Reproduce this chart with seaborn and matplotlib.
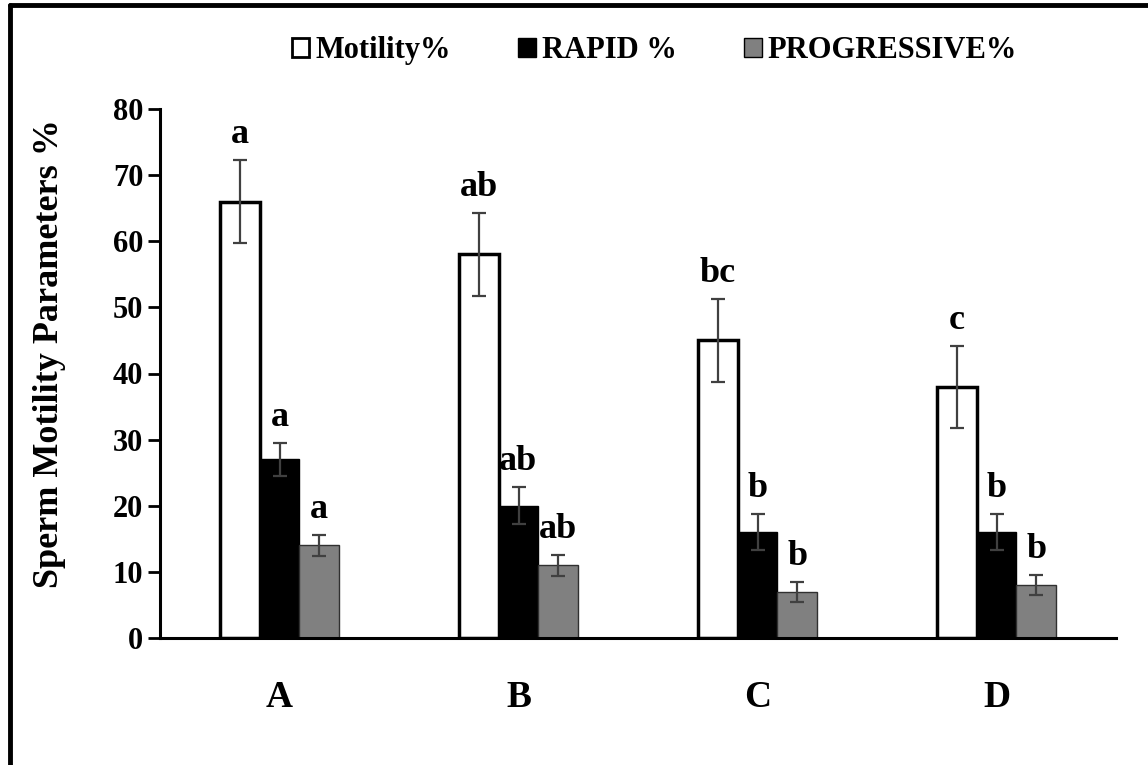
import matplotlib
matplotlib.use("Agg")
import matplotlib.pyplot as plt
import seaborn as sns
import pandas as pd
from matplotlib.patches import Patch
from matplotlib.lines import Line2D

# ---- data ----
groups = ["A", "B", "C", "D"]
series_names = ["Motility%", "RAPID %", "PROGRESSIVE%"]
motility = [66, 58, 45, 38]
rapid = [27, 20, 16, 16]
progressive = [14, 11, 7, 8]
motility_err = [6.3, 6.3, 6.3, 6.2]
rapid_err = [2.5, 2.8, 2.7, 2.7]
progressive_err = [1.6, 1.6, 1.5, 1.5]
motility_letters = ["a", "ab", "bc", "c"]
rapid_letters = ["a", "ab", "b", "b"]
progressive_letters = ["a", "ab", "b", "b"]
yticks = [0, 10, 20, 30, 40, 50, 60, 70, 80]

values = [motility, rapid, progressive]
errors = [motility_err, rapid_err, progressive_err]
letters = [motility_letters, rapid_letters, progressive_letters]

rows = []
for name, vals in zip(series_names, values):
    for g, v in zip(groups, vals):
        rows.append({"group": g, "series": name, "value": v})
df = pd.DataFrame(rows)

sns.set_style("white")
plt.rcParams["font.family"] = ["Liberation Serif", "DejaVu Serif"]
plt.rcParams["font.weight"] = "bold"
plt.rcParams["text.color"] = "black"
plt.rcParams["axes.labelcolor"] = "black"
plt.rcParams["xtick.color"] = "black"
plt.rcParams["ytick.color"] = "black"

fill_colors = ["white", "black", "#808080"]
edge_colors = ["black", "black", "#303030"]
edge_widths = [2.5, 1.0, 1.0]

fig = plt.figure(figsize=(11.48, 7.65), dpi=100)
ax = fig.add_axes([160 / 1148, 1 - 638 / 765, (1116 - 160) / 1148, (638 - 109) / 765])

sns.barplot(data=df, x="group", y="value", hue="series", hue_order=series_names,
            order=groups, palette=fill_colors, width=0.5, errorbar=None,
            legend=False, ax=ax)

bar_conts = list(ax.containers)
for i, cont in enumerate(bar_conts):
    xs, ys = [], []
    for bar in cont.patches:
        bar.set_facecolor(fill_colors[i])
        bar.set_edgecolor(edge_colors[i])
        bar.set_linewidth(edge_widths[i])
        xs.append(bar.get_x() + bar.get_width() / 2)
        ys.append(bar.get_height())
    ax.errorbar(xs, ys, yerr=errors[i], fmt="none", ecolor="#404040",
                elinewidth=1.6, capsize=5, capthick=1.6, zorder=5)
    for x, y, e, t in zip(xs, ys, errors[i], letters[i]):
        ax.annotate(t, (x, y + e), xytext=(0, 17), textcoords="offset pixels",
                    ha="center", va="baseline", fontsize=26, fontweight="bold",
                    color="black", zorder=6)

ax.set_ylim(0, 80)
ax.set_xlim(-0.5, 3.5)
ax.set_yticks(yticks)
ax.set_yticklabels([str(t) for t in yticks], fontsize=22, fontweight="bold")
ax.set_xticks(range(len(groups)))
ax.set_xticklabels(groups, fontsize=27, fontweight="bold")
ax.tick_params(axis="x", length=0, pad=30, colors="black")
ax.tick_params(axis="y", length=9, width=2, direction="out", pad=3, left=True,
               colors="black")
ax.set_xlabel("")
ax.set_ylabel("Sperm Motility Parameters %", fontsize=26, fontweight="bold",
              color="black")
ax.yaxis.set_label_coords(-0.098, 0.537)
for s in ["top", "right"]:
    ax.spines[s].set_visible(False)
ax.spines["left"].set_linewidth(2.2)
ax.spines["bottom"].set_linewidth(2.2)
ax.spines["left"].set_color("black")
ax.spines["bottom"].set_color("black")

handles = [Patch(facecolor=c, edgecolor="black", linewidth=2 if i == 0 else 1)
           for i, c in enumerate(fill_colors)]
fig.legend(handles, series_names, loc="center", bbox_to_anchor=(0.570, 0.934),
           ncol=3, frameon=False, handlelength=0.58,
           handleheight=0.58, handletextpad=0.2, columnspacing=2.2,
           labelcolor="black", prop={"weight": "bold", "size": 22})

# outer frame (left and top edges visible)
fig.add_artist(Line2D([10 / 1148, 10 / 1148], [0, 1 - 5 / 765], transform=fig.transFigure,
                      color="black", linewidth=3.5))
fig.add_artist(Line2D([10 / 1148, 1], [1 - 5 / 765, 1 - 5 / 765], transform=fig.transFigure,
                      color="black", linewidth=3.5))

fig.savefig("out.png", dpi=100, facecolor="white")
